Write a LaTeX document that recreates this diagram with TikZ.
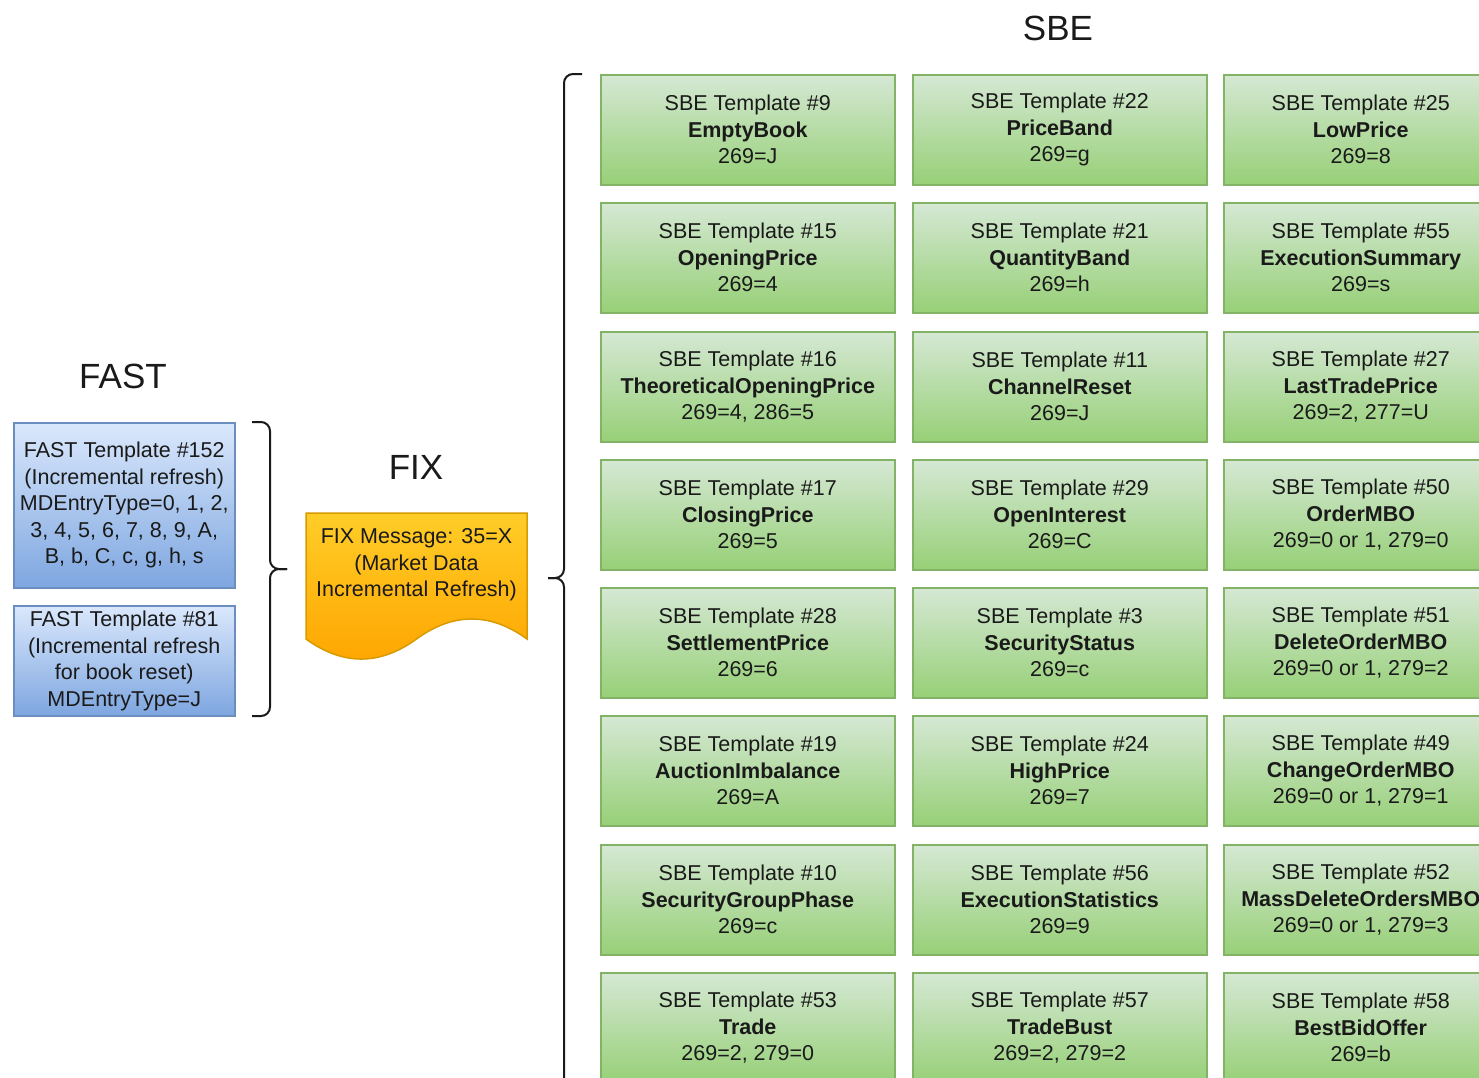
\documentclass[tikz,border=0pt]{standalone}
\usepackage{fontspec}
\setmainfont{Liberation Sans}
\definecolor{gtop}{HTML}{D5E8D4}
\definecolor{gbot}{HTML}{97D077}
\definecolor{gbord}{HTML}{82B366}
\definecolor{btop}{HTML}{DAE8FC}
\definecolor{bbot}{HTML}{7EA6E0}
\definecolor{bbord}{HTML}{6C8EBF}
\definecolor{otop}{HTML}{FFCD28}
\definecolor{obot}{HTML}{FFA500}
\definecolor{obord}{HTML}{D79B00}
\definecolor{ink}{HTML}{1A1A1A}
\begin{document}
\begin{tikzpicture}[x=1pt,y=-1pt,
  boxtext/.style={align=center, inner sep=0pt, text=ink, font=\fontsize{21.5}{26.5}\selectfont},
  sbe/.style={boxtext, draw=gbord, line width=1.5pt, top color=gtop, bottom color=gbot,
    minimum width=294pt, minimum height=110pt, anchor=north west},
  sbenarrow/.style={sbe, minimum width=274pt},
  fastbox/.style={boxtext, draw=bbord, line width=1.5pt, top color=btop, bottom color=bbot,
    minimum width=221pt, anchor=north west},
  fixdoc/.style={draw=obord, line width=1.5pt, top color=otop, bottom color=obot},
  title/.style={text=ink, inner sep=0pt, font=\fontsize{35}{40}\selectfont},
  brace/.style={draw=ink, line width=2pt, rounded corners=9pt}]
\useasboundingbox (0,0) rectangle (1479,1077);
\fill[white] (0,0) rectangle (1479,1077);
\clip (0,0) rectangle (1479,1077);

% titles
\node[title] (tsbe) at (1058,28) {SBE};
\node[title] (tfast) at (123,376) {FAST};
\node[title] (tfix) at (416,467) {FIX};

% FAST boxes
\node[fastbox, minimum height=165pt] (f152) at (13,422) {FAST Template \#152\\(Incremental refresh)\\MDEntryType=0, 1, 2,\\3, 4, 5, 6, 7, 8, 9, A,\\B, b, C, c, g, h, s};
\node[fastbox, minimum height=110pt] (f81) at (13,605) {FAST Template \#81\\(Incremental refresh\\for book reset)\\MDEntryType=J};

% FAST brace
\coordinate (fasttip) at (287,569);
\draw[brace] (252,422) -- (270,422) -- (270,569) -- (fasttip);
\draw[brace] (252,716) -- (270,716) -- (270,569) -- (fasttip);

% FIX document
\path[fixdoc] (306,513) -- (527,513) -- (527,639)
  .. controls (490.2,612.3) and (453.3,612.3) .. (416.5,639)
  .. controls (379.7,665.7) and (342.8,665.7) .. (306,639) -- cycle;
\node[boxtext] (fix) at (416.5,565) {FIX Message: 35=X\\(Market Data\\Incremental Refresh)};

% SBE brace
\coordinate (sbetip) at (548,578);
\draw[brace] (582,74) -- (564,74) -- (564,578) -- (sbetip);
\draw[brace] (582,1200) -- (564,1200) -- (564,578) -- (sbetip);

% SBE column 1
\node[sbe] (s9)  at (600,74)  {SBE Template \#9\\\textbf{EmptyBook}\\269=J};
\node[sbe] (s15) at (600,202) {SBE Template \#15\\\textbf{OpeningPrice}\\269=4};
\node[sbe] (s16) at (600,331) {SBE Template \#16\\\textbf{TheoreticalOpeningPrice}\\269=4, 286=5};
\node[sbe] (s17) at (600,459) {SBE Template \#17\\\textbf{ClosingPrice}\\269=5};
\node[sbe] (s28) at (600,587) {SBE Template \#28\\\textbf{SettlementPrice}\\269=6};
\node[sbe] (s19) at (600,715) {SBE Template \#19\\\textbf{AuctionImbalance}\\269=A};
\node[sbe] (s10) at (600,844) {SBE Template \#10\\\textbf{SecurityGroupPhase}\\269=c};
\node[sbe] (s53) at (600,972) {SBE Template \#53\\\textbf{Trade}\\269=2, 279=0};

% SBE column 2
\node[sbe] (s22) at (912,74)  {SBE Template \#22\\\textbf{PriceBand}\\269=g};
\node[sbe] (s21) at (912,202) {SBE Template \#21\\\textbf{QuantityBand}\\269=h};
\node[sbe] (s11) at (912,331) {SBE Template \#11\\\textbf{ChannelReset}\\269=J};
\node[sbe] (s29) at (912,459) {SBE Template \#29\\\textbf{OpenInterest}\\269=C};
\node[sbe] (s3)  at (912,587) {SBE Template \#3\\\textbf{SecurityStatus}\\269=c};
\node[sbe] (s24) at (912,715) {SBE Template \#24\\\textbf{HighPrice}\\269=7};
\node[sbe] (s56) at (912,844) {SBE Template \#56\\\textbf{ExecutionStatistics}\\269=9};
\node[sbe] (s57) at (912,972) {SBE Template \#57\\\textbf{TradeBust}\\269=2, 279=2};

% SBE column 3
\node[sbenarrow] (s25) at (1223,74)  {SBE Template \#25\\\textbf{LowPrice}\\269=8};
\node[sbenarrow] (s55) at (1223,202) {SBE Template \#55\\\textbf{ExecutionSummary}\\269=s};
\node[sbenarrow] (s27) at (1223,331) {SBE Template \#27\\\textbf{LastTradePrice}\\269=2, 277=U};
\node[sbenarrow] (s50) at (1223,459) {SBE Template \#50\\\textbf{OrderMBO}\\269=0 or 1, 279=0};
\node[sbenarrow] (s51) at (1223,587) {SBE Template \#51\\\textbf{DeleteOrderMBO}\\269=0 or 1, 279=2};
\node[sbenarrow] (s49) at (1223,715) {SBE Template \#49\\\textbf{ChangeOrderMBO}\\269=0 or 1, 279=1};
\node[sbenarrow] (s52) at (1223,844) {SBE Template \#52\\\textbf{MassDeleteOrdersMBO}\\269=0 or 1, 279=3};
\node[sbenarrow] (s58) at (1223,972) {SBE Template \#58\\\textbf{BestBidOffer}\\269=b};
\end{tikzpicture}
\end{document}
